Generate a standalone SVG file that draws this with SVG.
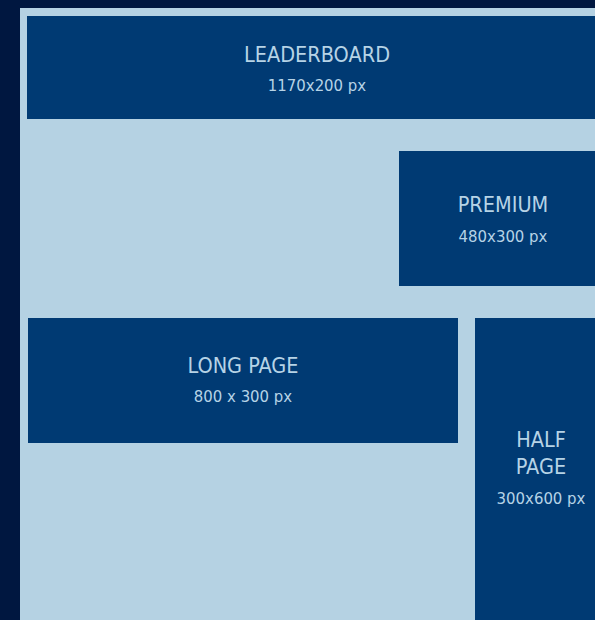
<svg xmlns="http://www.w3.org/2000/svg" width="595" height="620" viewBox="0 0 595 620">
<style>
.box{fill:#003a73}
.t{font-family:"DejaVu Sans Condensed","DejaVu Sans",sans-serif;font-stretch:condensed;fill:#b6d3e6;text-anchor:middle}
.h{font-size:21.5px}
.s{font-size:16.6px}
</style>
<rect x="0" y="0" width="595" height="620" fill="#001740"/>
<rect x="20" y="8" width="575" height="612" fill="#b5d2e3"/>
<g id="leaderboard">
<rect class="box" x="27" y="16" width="580" height="103"/>
<text class="t h" x="317" y="62">LEADERBOARD</text>
<text class="t s" x="317" y="91">1170x200 px</text>
</g>
<g id="premium">
<rect class="box" x="399" y="151" width="208" height="135"/>
<text class="t h" x="503" y="212">PREMIUM</text>
<text class="t s" x="503" y="242">480x300 px</text>
</g>
<g id="longpage">
<rect class="box" x="28" y="318" width="430" height="125"/>
<text class="t h" x="243" y="373">LONG PAGE</text>
<text class="t s" x="243" y="402">800 x 300 px</text>
</g>
<g id="halfpage">
<rect class="box" x="475" y="318" width="132" height="302"/>
<text class="t h" x="541" y="447">HALF</text>
<text class="t h" x="541" y="474">PAGE</text>
<text class="t s" x="541" y="504">300x600 px</text>
</g>
<g id="connectors"/>
</svg>
